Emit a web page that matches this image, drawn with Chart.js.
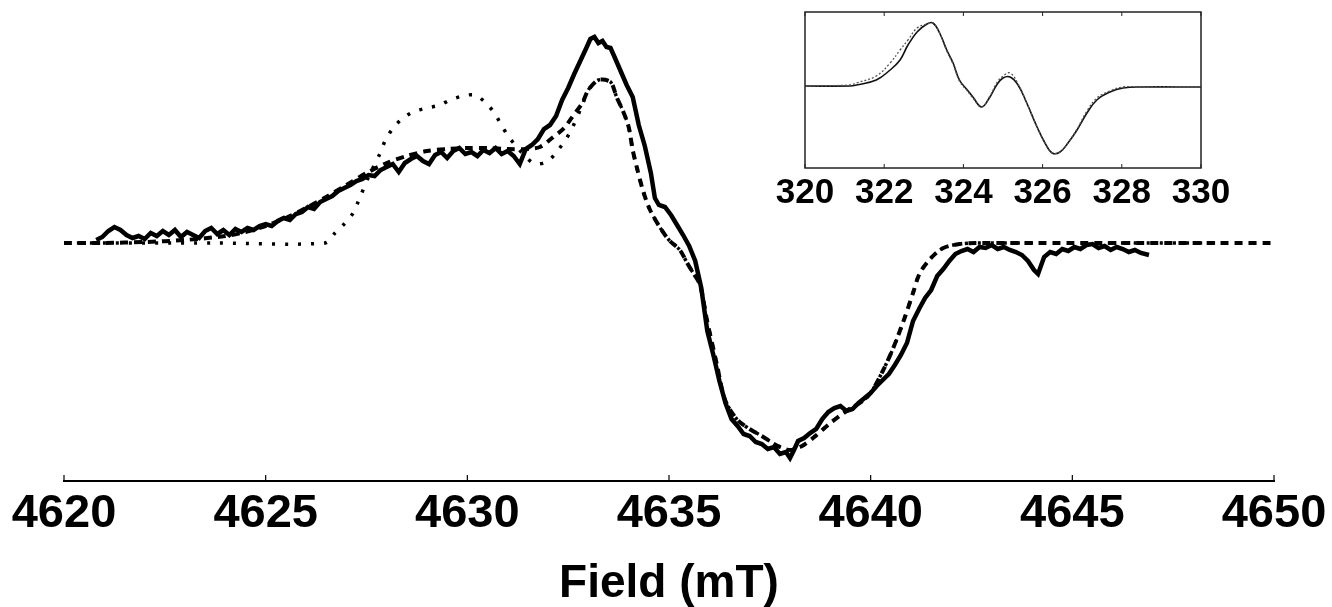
<!DOCTYPE html>
<html>
<head>
<meta charset="utf-8">
<script src="https://cdn.jsdelivr.net/npm/chart.js@4"></script>
<style>
  body { margin: 0; background: #fff; }
  #wrap { position: relative; width: 1332px; height: 607px; }
  #main { position: absolute; left: 0; top: 0; }
  #inset { position: absolute; left: 760px; top: 0; }
</style>
</head>
<body>
<div id="wrap">
  <canvas id="main" width="1332" height="607"></canvas>
  <canvas id="inset" width="480" height="215"></canvas>
</div>
<script>
// ---- main spectrum (field in mT, signal in arbitrary units) ----
var xTicks = [4620, 4625, 4630, 4635, 4640, 4645, 4650];

var expField = [4620.80,4620.95,4621.10,4621.25,4621.40,4621.55,4621.70,4621.85,4622.00,4622.15,
  4622.30,4622.45,4622.60,4622.75,4622.90,4623.05,4623.20,4623.35,4623.50,4623.65,
  4623.80,4623.95,4624.10,4624.25,4624.40,4624.55,4624.70,4624.85,4625.00,4625.15,
  4625.30,4625.45,4625.60,4625.75,4625.90,4626.05,4626.20,4626.35,4626.50,4626.65,
  4626.80,4626.95,4627.10,4627.25,4627.40,4627.55,4627.70,4627.85,4628.00,4628.15,
  4628.30,4628.45,4628.60,4628.75,4628.90,4629.05,4629.20,4629.35,4629.50,4629.65,
  4629.80,4629.95,4630.10,4630.25,4630.40,4630.55,4630.70,4630.85,4631.00,4631.15,
  4631.30,4631.45,4631.60,4631.75,4631.90,4632.05,4632.20,4632.35,4632.50,4632.65,
  4632.80,4632.95,4633.05,4633.15,4633.25,4633.35,4633.45,4633.55,4633.65,4633.80,
  4633.95,4634.10,4634.25,4634.40,4634.55,4634.65,4634.75,4634.90,4635.05,4635.20,
  4635.35,4635.50,4635.65,4635.80,4635.95,4636.10,4636.25,4636.40,4636.55,4636.70,
  4636.85,4637.00,4637.15,4637.30,4637.45,4637.60,4637.75,4637.90,4638.00,4638.10,
  4638.20,4638.35,4638.50,4638.65,4638.80,4638.95,4639.10,4639.25,4639.40,4639.55,
  4639.70,4639.85,4640.00,4640.15,4640.30,4640.45,4640.60,4640.75,4640.90,4641.05,
  4641.20,4641.35,4641.50,4641.65,4641.80,4641.95,4642.10,4642.25,4642.40,4642.55,
  4642.70,4642.85,4643.00,4643.15,4643.30,4643.45,4643.60,4643.75,4643.90,4644.05,
  4644.15,4644.30,4644.45,4644.60,4644.75,4644.90,4645.05,4645.20,4645.35,4645.50,
  4645.65,4645.80,4645.95,4646.10,4646.25,4646.40,4646.55,4646.70,4646.90];
var expSignal = [3,6,12,16,13,8,5,7,4,10,
  7,12,8,13,6,11,8,5,12,15,
  9,13,8,14,11,15,13,17,19,17,
  22,25,23,29,31,36,34,41,44,47,
  52,55,58,62,64,68,67,73,76,79,
  71,80,84,87,82,79,88,91,85,92,
  95,89,91,87,93,90,95,89,92,87,
  79,94,98,104,114,118,127,143,155,169,
  182,195,204,206,200,202,196,195,186,172,
  158,146,118,97,70,45,38,36,28,18,
  8,-3,-18,-45,-88,-112,-138,-160,-176,-183,
  -191,-193,-199,-201,-206,-204,-211,-209,-215,-207,
  -198,-195,-190,-186,-176,-169,-165,-163,-168,-166,
  -160,-155,-150,-143,-137,-131,-122,-112,-100,-78,
  -66,-55,-47,-33,-26,-18,-11,-8,-6,-9,
  -4,-5,-2,-6,-4,-7,-9,-12,-18,-27,
  -31,-14,-9,-11,-6,-8,-4,-6,-2,-1,
  -5,-3,-7,-4,-6,-9,-7,-10,-12];

var simAField = [4620.0,4621.0,4622.0,4623.0,4624.0,4624.5,4625.0,4625.5,4626.0,4626.5,
  4627.0,4627.5,4628.0,4628.5,4629.0,4629.5,4630.0,4630.5,4631.0,4631.5,
  4631.8,4632.1,4632.4,4632.6,4632.85,4633.0,4633.25,4633.55,4633.7,4633.85,
  4634.0,4634.1,4634.2,4634.35,4634.53,4634.77,4635.0,4635.27,4635.45,4635.6,
  4635.77,4635.94,4636.19,4636.39,4636.7,4637.0,4637.3,4637.7,4638.0,4638.3,
  4638.6,4639.0,4639.4,4639.8,4640.0,4640.3,4640.56,4640.85,4641.05,4641.22,
  4641.52,4641.8,4642.2,4642.6,4645.0,4650.0];
var simASignal = [0,0,1,3,7,11,17,25,35,46,
  58,70,80,87,92,94,95,95,94,94,
  96,105,115,126,140,153,163,161,146,133,
  116,93,76,53,33,16,3,-7,-20,-30,
  -42,-77,-122,-157,-177,-186,-193,-203,-207,-203,
  -194,-180,-168,-158,-150,-128,-105,-74,-50,-30,
  -14,-5,-1,0,0,0];

var simBField = [4620.0,4623.8,4626.47,4626.72,4626.97,4627.17,4627.29,4627.55,4627.84,4627.96,
  4628.16,4628.38,4628.65,4629.0,4629.32,4629.57,4629.89,4630.19,4630.46,4630.69,
  4630.84,4631.03,4631.23,4631.45,4631.68,4632.0,4632.25,4632.45,4632.6,4632.85,
  4633.0,4633.25,4633.55,4633.7,4633.85,4634.0,4634.1,4634.2,4634.35,4634.53,
  4634.77,4635.0,4635.27,4635.45,4635.6,4635.77,4635.94,4636.19,4636.39,4636.7,
  4637.0,4637.3,4637.7,4638.0,4638.3,4638.6,4639.0,4639.4,4639.8,4640.0,
  4640.3,4640.56,4640.85,4641.05,4641.22,4641.52,4641.8,4642.2,4642.6,4645.0,
  4650.0];
var simBSignal = [0,0,0,10,20,30,41,66,90,102,
  115,124,131,135,138,143,147,148,140,129,
  118,106,96,86,79,82,93,104,115,138,
  153,163,161,146,133,116,93,76,53,33,
  16,3,-7,-20,-30,-42,-77,-122,-157,-177,
  -186,-193,-203,-207,-203,-194,-180,-168,-158,-150,
  -128,-105,-74,-50,-30,-14,-5,-1,0,0,
  0];

// ---- inset (field in mT) ----
var insetTicks = [320, 322, 324, 326, 328, 330];
var insetField = [320.0,321.14,321.3,321.8,322.15,322.4,322.6,322.83,323.08,323.23,
  323.4,323.58,323.74,323.9,324.1,324.24,324.46,324.67,324.84,325.0,
  325.18,325.38,325.6,325.86,326.06,326.24,326.44,326.64,326.87,327.12,
  327.37,327.7,328.03,328.5,330.0];
var insetExp = [0,0,1,6,16,26,41,54,62,63,
  53,36,23,6,-4,-11,-21,-11,1,8,
  9,1,-17,-41,-57,-67,-66,-57,-44,-27,
  -14,-6,-2,-1,-1];
var insetSim = [0,1,3,10,23,36,46,58,62,63,
  53,35,22,5,-5,-12,-21,-10,3,10,
  13,2,-17,-41,-57,-67,-66,-57,-43,-25,
  -12,-5,-1,-1,-1];

function pairs(xs, ys) {
  return xs.map(function(x, i) { return {x: x, y: ys[i]}; });
}

var FONT = "'Liberation Sans', Arial, Helvetica, sans-serif";

// short ticks pointing into the plot, plus optional box frame
var inwardTicks = {
  id: 'inwardTicks',
  afterDatasetsDraw: function(chart, args, opts) {
    var ctx = chart.ctx, a = chart.chartArea, xs = chart.scales.x;
    ctx.save();
    ctx.strokeStyle = opts.color || '#000';
    ctx.lineWidth = opts.width || 1;
    xs.ticks.forEach(function(t) {
      var px = xs.getPixelForValue(t.value);
      ctx.beginPath();
      ctx.moveTo(px, a.bottom);
      ctx.lineTo(px, a.bottom - opts.len);
      if (opts.frame) {
        ctx.moveTo(px, a.top);
        ctx.lineTo(px, a.top + opts.len);
      }
      ctx.stroke();
    });
    if (opts.frame) {
      ctx.lineWidth = opts.frameWidth || 1.5;
      ctx.strokeRect(a.left, a.top, a.right - a.left, a.bottom - a.top);
    }
    ctx.restore();
  }
};

function plainLabel(v) { return String(v); }

new Chart(document.getElementById('main'), {
  type: 'scatter',
  data: {
    datasets: [
      {
        label: 'simulation 2',
        data: pairs(simBField, simBSignal),
        showLine: true, pointRadius: 0,
        borderColor: '#000', borderWidth: 3.5,
        borderDash: [3, 10], tension: 0.3
      },
      {
        label: 'simulation 1',
        data: pairs(simAField, simASignal),
        showLine: true, pointRadius: 0,
        borderColor: '#000', borderWidth: 4,
        borderDash: [8, 6], tension: 0.3
      },
      {
        label: 'experiment',
        data: pairs(expField, expSignal),
        showLine: true, pointRadius: 0,
        borderColor: '#000', borderWidth: 4.5, tension: 0
      }
    ]
  },
  options: {
    responsive: false,
    animation: false,
    layout: { padding: { left: 64, right: 58, top: 0, bottom: 0 } },
    plugins: {
      legend: { display: false },
      tooltip: { enabled: false },
      inwardTicks: { len: 6, width: 1.2 }
    },
    scales: {
      x: {
        type: 'linear', min: 4620, max: 4650,
        afterBuildTicks: function(s) { s.ticks = xTicks.map(function(v) { return {value: v}; }); },
        afterFit: function(s) { s.height = 126; },
        grid: { drawOnChartArea: false, drawTicks: false },
        border: { display: true, color: '#000', width: 2 },
        ticks: {
          color: '#000', padding: 5, maxRotation: 0,
          callback: plainLabel,
          font: { family: FONT, size: 47, weight: 'bold', lineHeight: 1.2 }
        },
        title: {
          display: true, text: 'Field (mT)', color: '#000',
          padding: 0,
          font: { family: FONT, size: 46, weight: 'bold', lineHeight: 1 }
        }
      },
      y: { display: false, min: -238, max: 243 }
    }
  },
  plugins: [inwardTicks]
});

new Chart(document.getElementById('inset'), {
  type: 'scatter',
  data: {
    datasets: [
      {
        label: 'simulation',
        data: pairs(insetField, insetSim),
        showLine: true, pointRadius: 0,
        borderColor: '#555', borderWidth: 1.3,
        borderDash: [2, 2], tension: 0.4
      },
      {
        label: 'experiment',
        data: pairs(insetField, insetExp),
        showLine: true, pointRadius: 0,
        borderColor: '#111', borderWidth: 1.6, tension: 0.4
      }
    ]
  },
  options: {
    responsive: false,
    animation: false,
    layout: { padding: { left: 45, right: 39, top: 12, bottom: 0 } },
    plugins: {
      legend: { display: false },
      tooltip: { enabled: false },
      inwardTicks: { len: 4, width: 1, frame: true, frameWidth: 1.5, color: '#222' }
    },
    scales: {
      x: {
        type: 'linear', min: 320, max: 330,
        afterBuildTicks: function(s) { s.ticks = insetTicks.map(function(v) { return {value: v}; }); },
        afterFit: function(s) { s.height = 47; },
        grid: { drawOnChartArea: false, drawTicks: false },
        border: { display: false },
        ticks: {
          color: '#000', padding: 7.5, maxRotation: 0,
          callback: plainLabel,
          font: { family: FONT, size: 35, weight: 'bold', lineHeight: 1 }
        }
      },
      y: { display: false, min: -82, max: 74 }
    }
  },
  plugins: [inwardTicks]
});
</script>
</body>
</html>
